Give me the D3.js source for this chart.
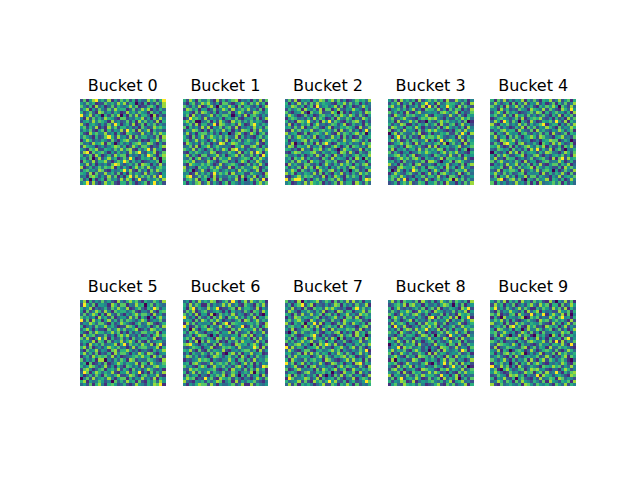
<!DOCTYPE html>
<html><head><meta charset="utf-8">
<script src="https://cdn.jsdelivr.net/npm/d3@7"></script>
<style>html,body{margin:0;padding:0;background:#fff;}svg{display:block;}</style>
</head><body>
<svg id="chart" width="640" height="480"></svg>
<script>
// Panel titles
const titles = ["Bucket 0","Bucket 1","Bucket 2","Bucket 3","Bucket 4","Bucket 5","Bucket 6","Bucket 7","Bucket 8","Bucket 9"];
// Value of each colour level 0..9 (0 = darkest purple, 9 = brightest yellow)
const levelValues = [0, 0.13, 0.24, 0.34, 0.44, 0.54, 0.64, 0.74, 0.85, 1.0];
// Colour levels, 28 rows x 28 columns per bucket
const bucket0 = [
"2715894 6381527 4726153 3857269","5374612 2746385 8265031 6142738","7426183 5137264 3584712 2675148","3681527 4273856 6137248 5814263",
"6247318 7352641 2846375 4173526","9358264 0627480 5173826 6308142","4182736 3865217 7243658 2517384","2563847 6418352 3726184 7352816",
"8315642 5273961 4628137 1647253","5726381 3184726 6352417 4238675","3647215 7162548 2957183 5816342","6218574 4835162 1764328 3527486",
"4753162 3796284 5281736 6342718","1586243 6427315 7843261 2165837","7342856 8174036 3526784 4873152","2865413 5246873 6138527 7413268",
"5317682 2653748 4782163 6928451","3891746 7415263 5284793 2658137","6247185 1362857 7153426 3974168","4627038 2584613 7395126 5628307",
"1753826 6831475 9726351 2354706","5382614 3527984 2463718 7615283","8136247 4768152 6315847 3842675","2674538 7215346 9482173 5173864",
"6528173 3846271 5173642 8264315","3417862 5283714 1693847 4738295","7250614 6174528 3861492 2645738","4692831 3857216 6274135 7159462"];
const bucket1 = [
"6285174 4731826 2578143 5163827","3157248 6842517 7314685 2748361","7426381 2683075 4851726 6325148","2874615 5137248 6283574 8352716",
"5631728 7426153 3715862 4287536","4718352 3582647 7503628 1674253","1396752 8254361 5637214 5627148","6847003 4716285 2185736 3746521",
"3572816 6249187 4362851 2795364","7163528 3815472 6728143 5384627","2548731 5173648 3615287 6172845","4825167 7362514 5027841 3861572",
"6317258 2586473 7438162 4215736","5724836 4158362 8163725 7536184","1863527 3614298 2587436 6348215","3472815 6825743 4316582 2784163",
"7538264 1472638 6189352 5236748","2164753 5387124 3752816 4829716","5826317 7245836 1468273 3726195","4371682 3618275 5832467 6174853",
"6758234 2863147 7241586 1538624","3186547 5741382 4675213 7263841","8243175 6374852 2816374 4587136","7360248 3157624 6352847 5248163",
"4512836 3629475 7183562 2754318","5892374 7418253 3647182 6381527","2674815 6048172 2538160 4837291","6153782 4826315 7164253 3516847"];
const bucket2 = [
"3728154 5164872 6837251 2475638","6152837 2738465 4216583 7361524","5487361 4719356 3582714 6124853","2635718 5362817 7148325 4853162",
"7314582 0745823 3860714 1536287","4863127 3512674 5274863 8627315","1576342 6283751 2618437 5142863","6241875 9426185 9375216 3784152",
"3815264 7158342 4762581 2635174","5627381 4376215 8143657 6418237","2184736 5823674 6371824 7251493","8356127 1467538 5218376 3684705",
"4725863 6381452 3846172 5127346","6143578 2745136 7562384 4875261","5280317 3618279 4127563 6342857","3871654 8254713 2685147 1763528",
"6524183 4176825 7420386 5238164","2168735 5783264 3651872 8416327","7435261 3628417 5184263 2573648","4617582 6243175 2836541 6185074",
"5372846 1856327 6471238 3724516","1846327 7325148 4263857 5163782","6253718 4718635 1537462 7842365","3586174 2641853 7825163 0572418",
"8471536 5382716 3164825 2638574","2135847 6734281 5286317 4751623","9279961 4157362 6738514 5341698","4612538 3865714 2471836 6185273"];
const bucket3 = [
"5271846 3618257 4736182 2853614","2648153 7152693 5183476 6427318","6835271 4362819 2715496 5183742","1457362 5824176 6382517 3761428",
"7362518 2168345 4527863 6815237","3186427 6743582 1654238 4273165","5723684 3215768 7843152 2648573","4618235 8471206 3268574 5362701",
"6253871 1526473 5718326 7148352","2874516 6385142 4271685 3526184","7136284 5417268 6854213 1673845","0582743 3748126 1436572 2739518",
"4169372 6231857 7586324 5184263","5837126 2763481 5149268 6428175","1256847 4182635 3672804 7351826","6742518 7536218 2815463 4682357",
"3815462 5628374 6487152 2615703","7263145 1347586 4526837 5834216","4578362 6812453 1763528 3271645","2136857 3785164 5248176 6452831",
"5624173 4253718 8620457 1786324","8351724 6178235 3164582 4527168","3217865 5842617 7536184 6148352","6028415 2973651 4851372 3765824",
"1485326 7326148 2617853 5281473","4763852 3154726 6382417 7416235","5728391 4615283 1473568 0847263","2361574 8237615 5726184 4152738"];
const bucket4 = [
"6173825 2548163 7316582 4825716","3852461 7163825 4825137 1637248","7426183 5837246 2164758 5074283","4518362 3275418 6538274 2186395",
"2685174 6412357 3871625 7452618","5734826 1856273 5247316 3816472","1367542 4728136 7683251 6241837","3851962 7406318 4126573 9528164",
"8216473 5384726 3579146 6152738","6472531 2638174 7254863 1735486","2537846 6185327 1846325 4862571","7164285 4516732 5372618 3247165",
"4825617 3741568 6287431 5683427","5318746 8263451 2415687 7136402","2741896 5178243 6307528 4852371","6583127 1624785 3758162 2617583",
"3276451 7352618 4926381 5720436","0632518 4817356 5263874 3148627","5174862 2568143 7831425 6472518","4823176 6135247 2467318 1792856",
"7268435 3741825 5126734 4851362","1536284 5826371 6382157 7264813","6457128 4273568 1753642 2618574","3281657 7518236 3826750 5137428",
"5842736 2367154 4518263 6483172","2716483 6154827 7264315 3825647","4589137 8372064 2745816 5261384","7163524 3845271 6183457 4716253"];
const bucket5 = [
"4816253 7352184 2685731 6437528","2963715 5418627 7143856 0572643","6358142 3627485 4812573 1649725","5172486 2841756 6357214 4283167",
"3725861 6184273 1536847 7418352","7463518 4627135 5283716 3051684","9271846 1583627 3764258 6135472","2548637 7316248 6421573 4872136",
"6135274 5846312 2875164 3614728","3684152 2173584 7346812 5287463","5217386 6358471 4162537 7463815","1846723 3725168 5834261 2516847",
"7382159 4816237 2517346 6348125","4653817 6172548 3685172 1724563","2518463 7345816 9274638 5381792","6827135 2586473 4138267 7435816",
"3174582 5417826 6852413 4216358","5836271 3261847 7415386 2873145","1462857 6738251 2346758 5618472","7253618 8042637 5187243 3764218",
"4607125 2713586 3654817 6185347","6358742 4825163 1763528 2437856","2784136 7156382 6417352 5863241","3971586 3648215 5826491 4172638",
"5136274 1753682 2487316 7354821","0472835 6384157 7162548 3528164","6815347 5240736 3856172 1647385","3527168 4167523 6213854 2648791"];
const bucket6 = [
"3516284 6487125 7294158 2853761","6283751 1725348 4836217 5317482","5179264 3846912 2571836 6428153","2748136 7235641 5163427 4176285",
"7362815 5180274 6382541 3726105","9425173 2617384 1758362 6381547","4651728 6374851 3425718 7258364","1837254 4528137 9176543 5647218",
"9512736 7163482 6824591 2736158","3608415 5874263 2173846 4582713","6275843 1436725 5817234 7163482","2461587 7205164 4356178 3814526",
"5738126 3641872 7285463 6172834","4162807 2854713 1637285 5428361","7895314 6327185 3418756 2685147","3247651 4581237 6752843 4597182",
"6583172 1736548 2145367 7361825","2516437 5273861 0682715 4835612","4873625 3148752 5736184 1527436","1324586 7615324 4851672 6283547",
"5617842 2483675 7263158 3716254","7452168 6138547 3527841 5614298","3286754 4567213 6184527 2738461","6148273 5826437 2375146 4807351",
"2735614 3164758 1483062 7256183","5867132 9472186 5726314 3148527","8321546 2635871 4618253 6573214","4153687 7284153 3572481 1826435"];
const bucket7 = [
"7241806 3568247 5172638 2836154","3615792 6814325 2487163 5273481","5382417 2175638 6853241 1694735","2863154 7426381 3518726 6145827",
"6417283 4835716 7261458 3528674","1528746 5367142 4683517 7281365","4736852 1852473 2734186 5467231","8316470 6492815 5127384 2853617",
"3674518 2738146 7461825 4315782","5281367 7516284 1836547 6728143","2058374 3647215 6378152 5184627","6473125 5793162 4215836 7184603",
"4716258 1384527 2850714 3627185","7362584 6823751 5614372 1458236","1547836 3071869 7382415 5263748","9283651 4568273 3156842 6827314",
"3852147 7215634 6847153 2537491","5624718 2847365 1538627 4158362","2738465 5136827 4265783 7613258","6185327 3674518 7421358 3846172",
"9471582 6253841 2873614 5189264","4358216 1782453 5316847 6427318","7126843 4517286 3682571 2853647","2564137 8326574 6042185 4718352",
"5817362 5361820 4173826 7254138","1973458 7248163 5627314 3815762","6345827 2185736 9583261 4623597","3827164 6413582 2751648 5172436"];
const bucket8 = [
"4826175 5371842 6148537 2753618","2367481 7845163 3526874 0627145","6158324 2463715 7281436 5318692","3742658 6128574 1865243 7264815",
"7513846 3785261 5437162 4186573","1685273 4526318 9172658 2806491","5274136 8163427 2635481 6347258","2836751 5417286 6823714 3582146",
"6194382 1352748 4716235 7238564","3527168 7284693 5381726 1653847","7461853 2638415 1257386 4825713","4315726 6513872 6074319 5362184",
"1783264 4176358 3542861 2718436","6528417 3825146 7163258 4571623","0462735 5718324 2846517 6183275","2549186 7346251 5318762 3825417",
"5836472 1685240 4271853 4629715","7142853 6237518 1836524 5472361","3685217 4518763 7264185 1836574","1806452 2873164 6415827 7254138",
"6572138 5342681 0625938 3718462","4218375 8163524 3754126 9462701","2783614 4621875 5217683 6538247","5347182 1756238 4862315 2174856",
"8165327 3274856 6329451 5816243","3716925 6485127 2571836 4803627","6254871 2813546 7436258 1568342","1573286 5637412 3682174 7245816"];
const bucket9 = [
"5273816 3618452 7462183 0538271","2846153 7135268 4285716 6172485","6935274 2583741 1637528 4728163","3172548 5426183 6815342 2854716",
"7481326 7185329 2649158 5381704","1620845 4368017 5724386 2794516","4758261 6213574 3186725 7463182","8346172 2857436 5473218 3615827",
"2563718 9472185 7231864 6148253","5187436 1650384 4862571 3725148","6724853 5138627 2517346 4386715","3718520 4283761 0746208 5172364",
"1463287 6741825 3825163 4617925","7526134 3164278 6458271 9182537","4287653 8516342 1374526 6483192","2813476 5327814 7265183 3756421",
"5381640 2675138 4136752 7214863","6152784 7468025 2581437 1857346","3574216 1832564 5723841 4268175","7425831 6254718 3168275 2574103",
"1647350 3716482 6852143 5386217","9238471 5184236 4317658 6725384","4710685 2367148 7845213 3158624","5863127 4523867 1572834 9416378",
"2375418 7846153 3918652 5642187","6154832 6057321 5283476 1873542","3486275 1738542 6427185 4265718","8217346 4361875 2754631 7538264"];

const buckets = [bucket0,bucket1,bucket2,bucket3,bucket4,bucket5,bucket6,bucket7,bucket8,bucket9];

(function draw(){
  const W = 640, H = 480;
  const svg = d3.select("#chart");
  // matplotlib default subplot geometry (2 rows x 5 cols)
  const mLeft = 0.125*W, mRight = 0.9*W, mTop = (1-0.88)*H, mBottom = (1-0.11)*H;
  const axW = (mRight-mLeft)/(5+4*0.2), axH = (mBottom-mTop)/(2+0.2);
  const side = Math.min(axW, axH);
  const color = d3.scaleSequential(d3.interpolateViridis).domain([0,1]);

  buckets.forEach((rows, k) => {
    const grid = rows.map(r => r.replace(/\s/g,"").split("").map(ch => levelValues[+ch]));
    const n = grid.length, m = grid[0].length;
    const c = k % 5, r = Math.floor(k / 5);
    const ax0 = mLeft + c*axW*1.2, ay0 = mTop + r*axH*1.2;
    const x0 = ax0 + (axW - side)/2, y0 = ay0 + (axH - side)/2;
    const x = d3.scaleBand().domain(d3.range(m)).range([x0, x0+side]);
    const y = d3.scaleBand().domain(d3.range(n)).range([y0, y0+side]);
    const cells = [];
    grid.forEach((row,i)=>row.forEach((v,j)=>cells.push({i,j,v})));
    svg.append("g").selectAll("rect").data(cells).join("rect")
      .attr("x", d=>x(d.j)).attr("y", d=>y(d.i))
      .attr("width", x.bandwidth()+0.3).attr("height", y.bandwidth()+0.3)
      .attr("fill", d=>color(d.v))
      .attr("shape-rendering","crispEdges");
    svg.append("text")
      .attr("x", x0 + side/2).attr("y", y0 - 8)
      .attr("text-anchor","middle")
      .attr("font-family","DejaVu Sans")
      .attr("font-size", 16)
      .attr("fill","#000")
      .text(titles[k]);
  });
})();
</script>
</body></html>
